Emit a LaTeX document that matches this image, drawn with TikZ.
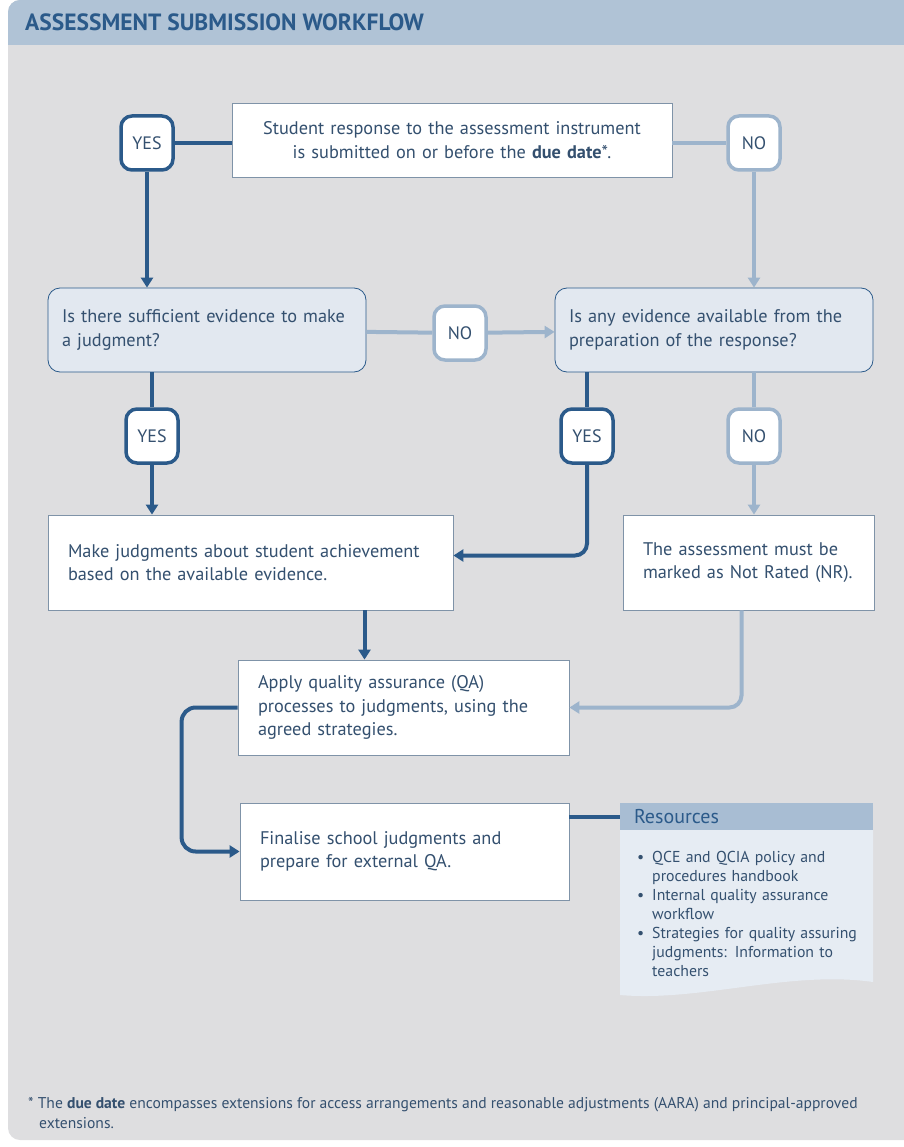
\documentclass[tikz,border=0pt]{standalone}
\usepackage{fontspec}
\setmainfont{PT Sans}
\usepackage{enumitem}
\usetikzlibrary{arrows.meta, positioning}

\definecolor{dkblue}{HTML}{2B5A8A}
\definecolor{ltblue}{HTML}{9DB4CC}
\definecolor{txt}{HTML}{34506F}
\definecolor{panel}{HTML}{DEDEE0}
\definecolor{hdr}{HTML}{B0C3D6}
\definecolor{qfill}{HTML}{E2E8F0}
\definecolor{resfill}{HTML}{E6ECF3}
\definecolor{resband}{HTML}{A8BDD3}
\definecolor{boxline}{HTML}{7F93A8}

\tikzstyle{stepbox} = [draw=boxline, fill=white, line width=0.8pt, text=txt, align=left, inner xsep=20pt, inner ysep=0pt, font=\fontsize{18.3}{23.5}\selectfont]
\tikzstyle{question} = [stepbox, draw=dkblue, fill=qfill, rounded corners=12pt, inner xsep=14pt]
\tikzstyle{yes} = [draw=dkblue, line width=3.5pt, fill=white, rounded corners=11pt, minimum width=52pt, minimum height=54pt, inner sep=0pt, text=txt, font=\fontsize{18}{20}\selectfont]
\tikzstyle{no} = [yes, draw=ltblue]
\tikzstyle{darkline} = [draw=dkblue, line width=4pt]
\tikzstyle{lightline} = [draw=ltblue, line width=4pt]
\tikzstyle{darkarr} = [darkline, -{Triangle[length=10pt, width=12pt]}]
\tikzstyle{lightarr} = [lightline, -{Triangle[length=10pt, width=12pt]}]

\begin{document}
\begin{tikzpicture}[x=1pt, y=-1pt]
  \useasboundingbox (0,0) rectangle (903,1147);
  % panel
  \fill[panel, rounded corners=12pt] (8,0) rectangle (930,1140);
  \fill[hdr] (8,45) [rounded corners=12pt] -- (8,0) -- (930,0) [sharp corners] -- (930,45) -- cycle;
  \node[anchor=west, inner sep=0pt, text=dkblue, font=\bfseries\fontsize{23.5}{26}\selectfont] (title) at (25,22) {ASSESSMENT SUBMISSION WORKFLOW};

  % submission
  \node[stepbox, align=center, text width=400pt, minimum height=74pt] (submit) at (452,140)
    {Student response to the assessment instrument\\is submitted on or before the \textbf{due date}*.};
  \node[yes] (yes1) at (147,143) {YES};
  \node[no] (no1) at (754,143) {NO};

  % questions
  \node[question, text width=290pt, minimum height=84pt] (q1) at (207,330)
    {Is there sufficient evidence to make\\a judgment?};
  \node[question, text width=290pt, minimum height=84pt] (q2) at (714,330)
    {Is any evidence available from the\\preparation of the response?};
  \node[no] (no2) at (460,333) {NO};
  \node[yes] (yes2) at (152,436) {YES};
  \node[yes] (yes3) at (587,436) {YES};
  \node[no] (no3) at (754,436) {NO};

  % outcomes
  \node[stepbox, text width=365pt, minimum height=95pt] (judge) at (250.5,562.5)
    {Make judgments about student achievement\\based on the available evidence.};
  \node[stepbox, text width=211pt, minimum height=95pt] (nr) at (748.5,562.5)
    {The assessment must be\\marked as Not Rated (NR).};
  \node[stepbox, text width=291pt, minimum height=95pt] (qa) at (403.5,707.5)
    {Apply quality assurance (QA)\\processes to judgments, using the\\agreed strategies.};
  \node[stepbox, text width=289pt, minimum height=97pt] (final) at (404.5,851.5)
    {Finalise school judgments and\\prepare for external QA.};

  % resources
  \fill[resfill] (620,830) -- (873,830) -- (873,982) .. controls (790,970) and (700,1002) .. (620,995) -- cycle;
  \node[fill=resband, text width=225pt, minimum height=27pt, inner xsep=14pt, inner ysep=0pt, align=left, text=dkblue, font=\fontsize{20}{22}\selectfont] (res) at (746.5,816.5) {Resources};
  \node[anchor=north west, text width=238pt, inner sep=0pt, text=txt, font=\fontsize{15.8}{19}\selectfont] (reslist) at (632,843) {%
    \begin{itemize}[leftmargin=20pt, labelsep=8pt, label=\textbullet, nosep]
      \item QCE and QCIA policy and procedures handbook
      \item Internal quality assurance workflow
      \item Strategies for quality assuring judgments: Information to teachers
    \end{itemize}};

  % footnote
  \node[anchor=north west, inner sep=0pt, align=left, text=txt, font=\fontsize{15.6}{20}\selectfont] (note) at (28,1097)
    {* The \textbf{due date} encompasses extensions for access arrangements and reasonable adjustments (AARA) and principal-approved\\\hspace*{11pt}extensions.};

  % yes / no from submission
  \draw[darkline] (yes1.east) -- (yes1.east -| submit.west);
  \draw[lightline] (no1.west -| submit.east) -- (no1.west);
  \draw[darkarr] (yes1) -- (yes1 |- q1.north);
  \draw[lightarr] (no1) -- (no1 |- q2.north);

  % sufficient evidence
  \draw[lightline] (q1) -- (no2);
  \draw[lightarr] (no2) -- (q2);
  \draw[darkline] (yes2 |- q1.south) -- (yes2);
  \draw[darkarr] (yes2) -- (yes2 |- judge.north);

  % evidence from preparation
  \draw[darkline] (yes3 |- q2.south) -- (yes3);
  \draw[darkarr, rounded corners=12pt] (yes3) |- ([yshift=7pt]judge.east);
  \draw[lightline] (no3 |- q2.south) -- (no3);
  \draw[lightarr] (no3) -- (no3 |- nr.north);

  % quality assurance
  \draw[darkarr] ([xshift=114pt]judge.south) -- ([xshift=114pt]judge.south |- qa.north);
  \draw[lightarr, rounded corners=12pt] ([xshift=-7pt]nr.south) |- (qa);
  \draw[darkarr, rounded corners=14pt] (qa.west) -- ++(-56,0) |- (final);
  \draw[darkline] (res.west -| final.east) -- (res.west);
\end{tikzpicture}
\end{document}
